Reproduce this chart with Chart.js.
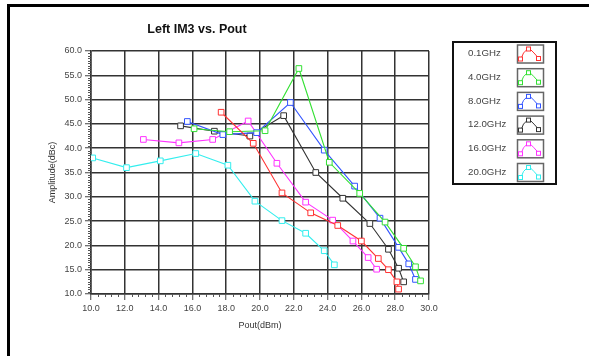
<!DOCTYPE html>
<html>
<head>
<meta charset="utf-8">
<script src="https://cdn.jsdelivr.net/npm/chart.js@4"></script>
<style>
  html, body { margin: 0; padding: 0; background: #fff; }
  #wrap { width: 589px; height: 356px; position: relative; }
</style>
</head>
<body>
<div id="wrap"><canvas id="im3Chart" width="589" height="356"></canvas></div>
<script>
// data (Pout in dBm, IM3 in dBc)
var freqLabels = ['0.1GHz', '4.0GHz', '8.0GHz', '12.0GHz', '16.0GHz', '20.0GHz'];
var lineColors = ['#ff3333', '#33e033', '#3355ff', '#333333', '#ff33ff', '#33eeee'];

var pout01 = [17.7, 19.6, 21.3, 23.0, 24.6, 26.0, 27.0, 27.6, 28.1, 28.2];
var im3_01 = [47.4, 41.0, 30.8, 26.7, 24.1, 20.9, 17.3, 15.0, 12.5, 11.0];

var pout4 = [16.1, 18.2, 20.3, 22.3, 24.1, 25.9, 27.4, 28.5, 29.2, 29.5];
var im3_4 = [44.0, 43.4, 43.6, 56.4, 37.1, 30.7, 24.8, 19.4, 15.6, 12.7];

var pout8 = [15.7, 17.8, 19.8, 21.8, 23.8, 25.6, 27.1, 28.2, 28.8, 29.2];
var im3_8 = [45.5, 42.8, 43.2, 49.4, 39.6, 32.2, 25.6, 19.6, 16.2, 13.0];

var pout12 = [15.3, 17.3, 19.4, 21.4, 23.3, 24.9, 26.5, 27.6, 28.2, 28.5];
var im3_12 = [44.6, 43.5, 42.5, 46.7, 35.0, 29.7, 24.5, 19.2, 15.3, 12.5];

var pout16 = [13.1, 15.2, 17.2, 19.3, 21.0, 22.7, 24.3, 25.5, 26.4, 26.9];
var im3_16 = [41.8, 41.1, 41.8, 45.6, 36.9, 28.9, 25.2, 20.9, 17.5, 15.1];

var pout20 = [10.1, 12.1, 14.1, 16.2, 18.1, 19.7, 21.3, 22.7, 23.8, 24.4];
var im3_20 = [38.0, 36.0, 37.4, 38.9, 36.5, 29.1, 25.1, 22.5, 18.9, 16.0];

var xTicks = [10, 12, 14, 16, 18, 20, 22, 24, 26, 28, 30];
var yTicks = [10, 15, 20, 25, 30, 35, 40, 45, 50, 55, 60];

var seriesX = [pout01, pout4, pout8, pout12, pout16, pout20];
var seriesY = [im3_01, im3_4, im3_8, im3_12, im3_16, im3_20];

function toPoints(xs, ys) {
    return xs.map(function(x, i) { return { x: x, y: ys[i] }; });
}

var datasets = freqLabels.map(function(lbl, i) {
    return {
        label: lbl,
        data: toPoints(seriesX[i], seriesY[i]),
        showLine: true,
        borderColor: lineColors[i],
        borderWidth: 1.1,
        pointStyle: 'rect',
        pointRadius: 4,
        pointBorderWidth: 1,
        pointBackgroundColor: '#fff',
        pointBorderColor: lineColors[i]
    };
});

var labelFont = { family: 'Liberation Sans, Arial, sans-serif', size: 9 };

// title, frame, minor ticks and the boxed legend
var decor = {
    id: 'decor',
    afterDraw: function(chart) {
        var ctx = chart.ctx;
        var xs = chart.scales.x, ys = chart.scales.y;
        var area = chart.chartArea;
        ctx.save();

        // outer frame
        ctx.fillStyle = '#000';
        ctx.fillRect(7, 4, 582, 3);
        ctx.fillRect(7, 4, 3, 352);

        // title
        ctx.fillStyle = '#111';
        ctx.font = 'bold 12.5px Liberation Sans, Arial, sans-serif';
        ctx.textAlign = 'center';
        ctx.textBaseline = 'middle';
        ctx.fillText('Left IM3 vs. Pout', 197, 30);

        // minor ticks
        ctx.strokeStyle = '#555';
        ctx.lineWidth = 1;
        ctx.beginPath();
        for (var v = 10; v <= 60.001; v += 0.5) {
            if (Math.abs(v % 5) < 0.01) continue;
            var py = Math.round(ys.getPixelForValue(v)) + 0.5;
            ctx.moveTo(area.left - 3, py);
            ctx.lineTo(area.left, py);
        }
        for (var u = 10; u <= 30.001; u += 0.4) {
            if (Math.abs(u % 2) < 0.01 || Math.abs(u % 2 - 2) < 0.01) continue;
            var px = Math.round(xs.getPixelForValue(u)) + 0.5;
            ctx.moveTo(px, area.bottom);
            ctx.lineTo(px, area.bottom + 3);
        }
        ctx.stroke();

        // legend
        var bx = 453, by = 42, bw = 103, bh = 142;
        ctx.strokeStyle = '#111';
        ctx.lineWidth = 2;
        ctx.strokeRect(bx, by, bw, bh);
        ctx.font = '9.7px Liberation Sans, Arial, sans-serif';
        ctx.textAlign = 'left';
        chart.data.datasets.forEach(function(ds, i) {
            var top = 45 + i * 23.7;
            ctx.fillStyle = '#444';
            ctx.fillText(ds.label, 468, top + 8.5);
            // icon box
            ctx.strokeStyle = '#666';
            ctx.lineWidth = 1.5;
            ctx.strokeRect(517.5, top, 26, 18);
            ctx.strokeStyle = ds.borderColor;
            ctx.lineWidth = 1;
            ctx.beginPath();
            ctx.moveTo(520.5, top + 15);
            ctx.lineTo(523.5, top + 8);
            ctx.lineTo(527, top + 4.5);
            ctx.lineTo(530.5, top + 4.5);
            ctx.lineTo(534, top + 8);
            ctx.lineTo(538.5, top + 13);
            ctx.stroke();
            [[520.5, top + 14], [528.5, top + 4], [538.5, top + 13.5]].forEach(function(p) {
                ctx.fillStyle = '#fff';
                ctx.fillRect(p[0] - 2, p[1] - 2, 4, 4);
                ctx.strokeRect(p[0] - 2, p[1] - 2, 4, 4);
            });
        });
        ctx.restore();
    }
};

var ctx = document.getElementById('im3Chart').getContext('2d');
var im3Chart = new Chart(ctx, {
    type: 'scatter',
    data: { datasets: datasets },
    options: {
        responsive: false,
        animation: false,
        layout: { padding: { left: 43, right: 160, top: 51, bottom: 21 } },
        plugins: {
            legend: { display: false },
            title: { display: false },
            tooltip: { enabled: false }
        },
        scales: {
            x: {
                type: 'linear',
                min: 10,
                max: 30,
                afterFit: function(scale) { scale.height = 41; },
                afterBuildTicks: function(scale) {
                    scale.ticks = xTicks.map(function(v) { return { value: v }; });
                },
                ticks: {
                    color: '#444',
                    font: labelFont,
                    padding: 3,
                    maxRotation: 0,
                    callback: function(v) { return Number(v).toFixed(1); }
                },
                grid: { color: '#333', lineWidth: 1.5, tickLength: 6, tickColor: '#444', tickWidth: 1 },
                border: { color: '#333', width: 1.5 },
                title: { display: true, text: 'Pout(dBm)', color: '#333', font: labelFont, padding: 4 }
            },
            y: {
                type: 'linear',
                min: 10,
                max: 60,
                afterFit: function(scale) { scale.width = 48; },
                afterBuildTicks: function(scale) {
                    scale.ticks = yTicks.map(function(v) { return { value: v }; });
                },
                ticks: {
                    color: '#444',
                    font: labelFont,
                    padding: 3,
                    callback: function(v) { return Number(v).toFixed(1); }
                },
                grid: { color: '#333', lineWidth: 1.5, tickLength: 6, tickColor: '#444', tickWidth: 1 },
                border: { color: '#333', width: 1.5 },
                title: { display: true, text: 'Amplitude(dBc)', color: '#333', font: labelFont, padding: 4 }
            }
        }
    },
    plugins: [decor]
});
</script>
</body>
</html>
